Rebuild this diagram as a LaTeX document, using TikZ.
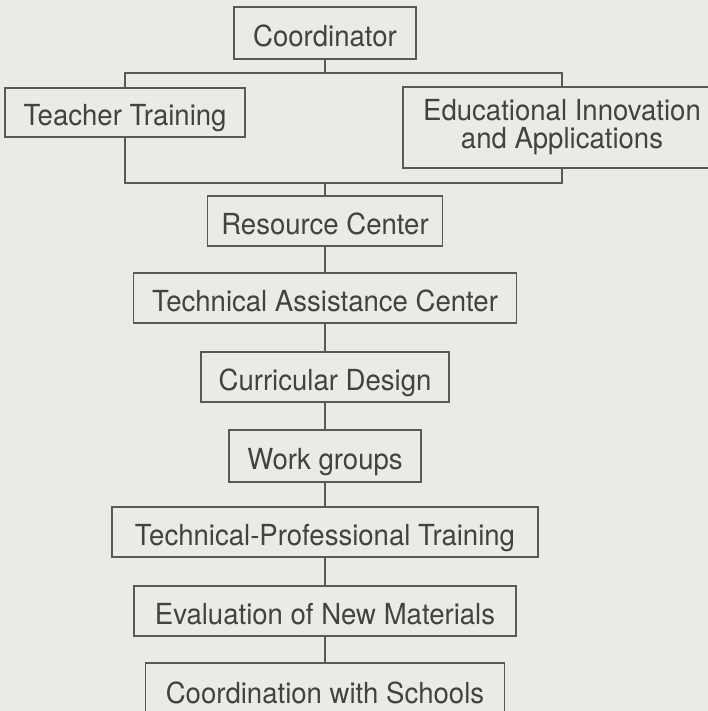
\documentclass[tikz,border=0pt]{standalone}
\usepackage{fontspec}
\setmainfont{TeX Gyre Heros}[FakeStretch=0.95]
\usetikzlibrary{positioning}
\definecolor{paper}{HTML}{EBEAE5}
\definecolor{ink}{HTML}{424242}
\definecolor{rulegray}{HTML}{595959}
\tikzset{
  unit/.style={rectangle,draw=rulegray,line width=1.6pt,text=ink,inner sep=0,
               minimum height=50pt,text height=27pt,text depth=0pt,
               font=\fontsize{29}{28}\selectfont},
  twoline/.style={unit,text height=,text depth=,align=center},
  link/.style={draw=rulegray,line width=1.4pt},
}

\begin{document}
\begin{tikzpicture}[x=1pt,y=-1pt]
  \useasboundingbox (0,0) rectangle (708,711);
  \fill[paper] (0,0) rectangle (708,711);
  \clip (0,0) rectangle (708,711);
  % top of the chart
  \node[unit,minimum width=182pt,minimum height=52pt] (coord) at (325,33) {Coordinator};
  \node[unit,minimum width=240pt,minimum height=49pt] (teach) at (125,112.5) {Teacher Training};
  \node[twoline,minimum width=318pt,minimum height=81pt] (edu) at (562,127.5)
    {Educational Innovation\\and Applications};
  \coordinate (split) at (325,73);
  \coordinate (join) at (325,183);
  \draw[link] (coord.south) -- (split);
  \draw[link] (teach.north) |- (split) -| (edu.north);
  \draw[link] (teach.south) |- (join) -| (edu.south);
  % the single column below
  \node[unit,minimum width=235pt] (res) at (325,221) {Resource Center};
  \node[unit,minimum width=383pt] (ta) at (325,298) {Technical Assistance Center};
  \node[unit,minimum width=248pt] (cur) at (325,377) {Curricular Design};
  \node[unit,minimum width=192pt,minimum height=52pt] (work) at (325,456) {Work groups};
  \node[unit,minimum width=426pt] (tp) at (325,532) {Technical-Professional Training};
  \node[unit,minimum width=382pt] (eval) at (325,611) {Evaluation of New Materials};
  \node[unit,minimum width=359pt,minimum height=54pt] (cws) at (325,690) {Coordination with Schools};
  \draw[link] (join) -- (res.north);
  \foreach \a/\b in {res/ta,ta/cur,cur/work,work/tp,tp/eval,eval/cws}
    \draw[link] (\a.south) -- (\b.north);
\end{tikzpicture}
\end{document}
